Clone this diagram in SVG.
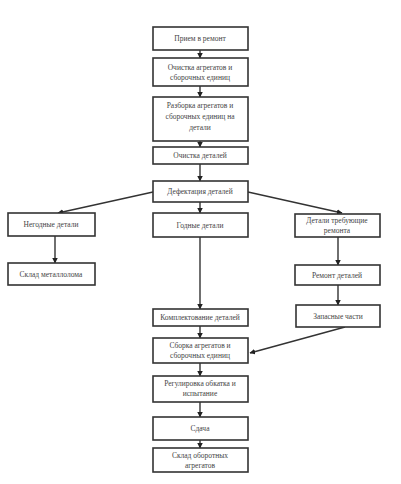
<svg xmlns="http://www.w3.org/2000/svg" width="401" height="484" viewBox="0 0 401 484">
<defs>
<marker id="ah" viewBox="0 0 6 6" refX="5.5" refY="3" markerWidth="4" markerHeight="4" orient="auto">
<path d="M0,0 L6,3 L0,6 Z" fill="#222"/>
</marker>
<style>
.b{fill:#fff;stroke:#333;stroke-width:1.6}
.t{font-family:"Liberation Serif",serif;font-size:7.5px;fill:#444;text-anchor:middle}
.c{stroke:#333;stroke-width:1.4;fill:none;marker-end:url(#ah)}
</style>
</defs>
<rect width="401" height="484" fill="#fff"/>
<g id="connectors">
<line class="c" x1="200" y1="50" x2="200" y2="58"/>
<line class="c" x1="200" y1="86" x2="200" y2="97"/>
<line class="c" x1="200" y1="141" x2="200" y2="147"/>
<line class="c" x1="200" y1="164" x2="200" y2="181"/>
<line class="c" x1="200" y1="202" x2="200" y2="213"/>
<line class="c" x1="153" y1="192" x2="58" y2="213"/>
<line class="c" x1="248" y1="192" x2="342" y2="213"/>
<line class="c" x1="55" y1="236" x2="55" y2="263"/>
<line class="c" x1="338" y1="237" x2="338" y2="265"/>
<line class="c" x1="338" y1="285" x2="338" y2="305"/>
<line class="c" x1="200" y1="237" x2="200" y2="309"/>
<line class="c" x1="345" y1="327" x2="250" y2="353"/>
<line class="c" x1="200" y1="326" x2="200" y2="338"/>
<line class="c" x1="200" y1="363" x2="200" y2="376"/>
<line class="c" x1="200" y1="402" x2="200" y2="417"/>
<line class="c" x1="200" y1="440" x2="200" y2="448"/>
</g>
<g id="n1"><rect class="b" x="153" y="27" width="95" height="23"/><text class="t" x="200" y="41">Прием в ремонт</text></g>
<g id="n2"><rect class="b" x="153" y="58" width="95" height="28"/><text class="t" x="200" y="70">Очистка агрегатов и</text><text class="t" x="200" y="80">сборочных единиц</text></g>
<g id="n3"><rect class="b" x="153" y="97" width="95" height="44"/><text class="t" x="200" y="108">Разборка агрегатов и</text><text class="t" x="200" y="119">сборочных единиц на</text><text class="t" x="200" y="130">детали</text></g>
<g id="n4"><rect class="b" x="153" y="147" width="95" height="17"/><text class="t" x="200" y="158">Очистка деталей</text></g>
<g id="n5"><rect class="b" x="153" y="181" width="95" height="21"/><text class="t" x="200" y="194">Дефектация деталей</text></g>
<g id="n6"><rect class="b" x="8" y="213" width="87" height="23"/><text class="t" x="51" y="227">Негодные детали</text></g>
<g id="n7"><rect class="b" x="153" y="213" width="95" height="24"/><text class="t" x="200" y="228">Годные детали</text></g>
<g id="n8"><rect class="b" x="295" y="214" width="85" height="23"/><text class="t" x="337" y="223">Детали требующие</text><text class="t" x="337" y="233">ремонта</text></g>
<g id="n9"><rect class="b" x="8" y="263" width="87" height="22"/><text class="t" x="51" y="277">Склад металлолома</text></g>
<g id="n10"><rect class="b" x="295" y="265" width="85" height="20"/><text class="t" x="337" y="278">Ремонт деталей</text></g>
<g id="n11"><rect class="b" x="153" y="309" width="95" height="17"/><text class="t" x="200" y="320">Комплектование деталей</text></g>
<g id="n12"><rect class="b" x="296" y="305" width="84" height="22"/><text class="t" x="338" y="319">Запасные части</text></g>
<g id="n13"><rect class="b" x="153" y="338" width="95" height="25"/><text class="t" x="200" y="348">Сборка агрегатов и</text><text class="t" x="200" y="358">сборочных единиц</text></g>
<g id="n14"><rect class="b" x="153" y="376" width="95" height="26"/><text class="t" x="200" y="386">Регулировка обкатка и</text><text class="t" x="200" y="396">испытание</text></g>
<g id="n15"><rect class="b" x="153" y="417" width="95" height="23"/><text class="t" x="200" y="431">Сдача</text></g>
<g id="n16"><rect class="b" x="153" y="448" width="95" height="24"/><text class="t" x="200" y="458">Склад оборотных</text><text class="t" x="200" y="468">агрегатов</text></g>
</svg>
